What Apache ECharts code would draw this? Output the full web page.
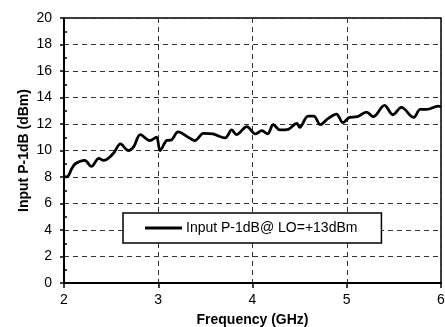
<!DOCTYPE html>
<html>
<head>
<meta charset="utf-8">
<script src="https://cdn.jsdelivr.net/npm/echarts@6/dist/echarts.min.js"></script>
<style>
  html, body { margin: 0; padding: 0; background: #fff; }
  #chart { width: 445px; height: 327px; }
</style>
</head>
<body>
<div id="chart"></div>
<script>
// Input P-1dB versus RF frequency, LO drive +13 dBm
const seriesName = 'Input P-1dB@ LO=+13dBm';
const freqGHz = [
  2.00, 2.04, 2.08, 2.12, 2.22, 2.29, 2.37, 2.42, 2.52, 2.60,
  2.68, 2.74, 2.81, 2.91, 2.98, 3.02, 3.09, 3.14, 3.21, 3.34,
  3.39, 3.48, 3.58, 3.71, 3.78, 3.83, 3.94, 4.03, 4.10, 4.16,
  4.22, 4.29, 4.38, 4.47, 4.50, 4.59, 4.65, 4.72, 4.80, 4.89,
  4.96, 5.03, 5.11, 5.21, 5.28, 5.40, 5.49, 5.58, 5.71, 5.78,
  5.85, 5.97, 6.00
];
const p1dB = [
  8.0, 8.05, 8.6, 9.0, 9.25, 8.8, 9.4, 9.25, 9.75, 10.5,
  10.0, 10.3, 11.2, 10.75, 11.0, 10.0, 10.75, 10.8, 11.4, 10.9,
  10.75, 11.3, 11.25, 10.95, 11.55, 11.2, 11.8, 11.25, 11.5, 11.25,
  11.95, 11.55, 11.6, 12.05, 11.75, 12.6, 12.6, 11.95, 12.4, 12.75,
  12.1, 12.5, 12.55, 12.9, 12.55, 13.4, 12.7, 13.25, 12.5, 13.1,
  13.1, 13.35, 13.3
];
const xTicks = [2, 3, 4, 5, 6];
const yTicks = [0, 2, 4, 6, 8, 10, 12, 14, 16, 18, 20];

const font = '"Liberation Sans", Arial, sans-serif';
const gridDash = { color: '#333', width: 1, type: [5, 4] };
const plotLeft = 64, plotRight = 4, W = 445;

const chart = echarts.init(document.getElementById('chart'), null, { renderer: 'canvas' });
chart.setOption({
  animation: false,
  backgroundColor: '#fff',
  grid: {
    left: plotLeft, right: plotRight, top: 18, bottom: 44,
    containLabel: false,
    outerBoundsMode: 'none',
    show: true, borderColor: '#000', borderWidth: 1.5, backgroundColor: 'transparent'
  },
  legend: {
    left: 123, top: 213,
    padding: [8, 24, 8, 22],
    backgroundColor: '#fff',
    borderColor: '#000',
    borderWidth: 1.5,
    borderRadius: 0,
    icon: 'rect',
    itemWidth: 37, itemHeight: 3, itemGap: 0,
    itemStyle: { color: '#000', borderWidth: 0 },
    textStyle: { fontFamily: font, fontSize: 14, color: '#000', padding: [0, 0, 0, -1] },
    data: [seriesName]
  },
  xAxis: {
    type: 'value',
    min: xTicks[0], max: xTicks[xTicks.length - 1], interval: 1,
    name: 'Frequency (GHz)', nameLocation: 'middle', nameGap: 30,
    nameMoveOverlap: false,
    nameTextStyle: { fontFamily: font, fontSize: 14, fontWeight: 'bold', color: '#000' },
    axisLine: { lineStyle: { color: '#000', width: 2 } },
    axisTick: { show: true, length: 5, lineStyle: { color: '#000', width: 1.5 } },
    axisLabel: { fontFamily: font, fontSize: 14, color: '#000', margin: 10 },
    splitLine: { show: true, lineStyle: gridDash }
  },
  yAxis: [{
    type: 'value',
    min: yTicks[0], max: yTicks[yTicks.length - 1], interval: 2,
    name: 'Input P-1dB (dBm)', nameLocation: 'middle', nameGap: 33,
    nameMoveOverlap: false,
    nameTextStyle: { fontFamily: font, fontSize: 14, fontWeight: 'bold', color: '#000' },
    axisLine: { show: true, lineStyle: { color: '#000', width: 2 } },
    axisTick: { show: true, length: 4, lineStyle: { color: '#000', width: 1.5 } },
    axisLabel: { fontFamily: font, fontSize: 14, color: '#000', margin: 12 },
    splitLine: { show: true, lineStyle: gridDash }
  }, {
    // right-side axis shifted onto the left edge so its minor ticks point into the plot
    type: 'value', position: 'right',
    offset: -(W - plotLeft - plotRight),
    min: yTicks[0], max: yTicks[yTicks.length - 1], interval: 2,
    axisLine: { show: false },
    axisTick: { show: false },
    minorTick: { show: true, splitNumber: 2, length: 3, lineStyle: { color: '#000', width: 1.5 } },
    axisLabel: { show: false },
    splitLine: { show: false }
  }],
  series: [{
    name: seriesName,
    type: 'line',
    yAxisIndex: 0,
    data: freqGHz.map((f, i) => [f, p1dB[i]]),
    smooth: 0.35,
    symbol: 'none',
    lineStyle: { color: '#000', width: 2.8 },
    itemStyle: { color: '#000' }
  }]
});
</script>
</body>
</html>
